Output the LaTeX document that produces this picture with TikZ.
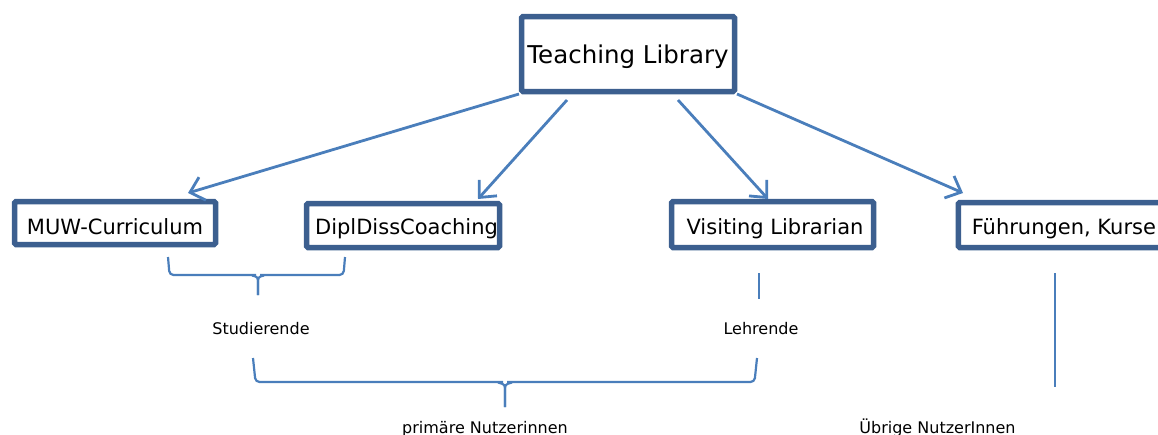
\documentclass[tikz,border=0pt]{standalone}
\usepackage{fontspec}
\setmainfont{DejaVu Sans}
\usetikzlibrary{arrows.meta}
\definecolor{boxblue}{HTML}{3C5F8F}
\definecolor{lineblue}{HTML}{4A7EBB}
\tikzset{
  box/.style={draw=boxblue, line width=5.5pt, rounded corners=1.5pt, fill=white, inner sep=0pt, font=\fontsize{21}{24}\selectfont, text=black, text depth=0pt},
  conn/.style={draw=lineblue, line width=2.8pt, -{Straight Barb[length=13pt,width=24pt,line width=2.8pt]}},
  brace/.style={draw=lineblue, line width=2.2pt, rounded corners=4pt},
  lbl/.style={font=\fontsize{16}{19}\selectfont, text=black, inner sep=0pt}
}
\begin{document}
\begin{tikzpicture}[x=1pt,y=-1pt]
\useasboundingbox (0,0) rectangle (1158,434);
\clip (0,0) rectangle (1158,434);
% boxes
\node[box, minimum width=213pt, minimum height=75pt, font=\fontsize{24.5}{28}\selectfont, text height=18pt] (tl) at (628,54) {Teaching Library};
\node[box, minimum width=201pt, minimum height=43pt, text height=23pt] (muw) at (115,223) {MUW-Curriculum};
\node[box, minimum width=193pt, minimum height=44pt, text height=17pt] (dipl) at (403,225.5) {\hspace*{7pt}DiplDissCoaching};
\node[box, minimum width=202pt, minimum height=46pt, text height=20pt] (vis) at (772.5,224.5) {\hspace*{5pt}Visiting Librarian};
\node[box, minimum height=45pt, anchor=west, text height=19pt] (fue) at (955.5,225) {\hspace*{13.5pt}F\"uhrungen, Kurse\hspace*{40pt}};
% connector endpoints
\coordinate (a1s) at (519,94);  \coordinate (a1e) at (188,193);
\coordinate (a2s) at (567,100); \coordinate (a2e) at (478,199);
\coordinate (a3s) at (678,100); \coordinate (a3e) at (768,199);
\coordinate (a4s) at (737,94);  \coordinate (a4e) at (963,193);
\draw[conn] (a1s) -- (a1e);
\draw[conn] (a2s) -- (a2e);
\draw[conn] (a3s) -- (a3e);
\draw[conn] (a4s) -- (a4e);
% small brace
\coordinate (b1l) at (168,257); \coordinate (b1r) at (345,257); \coordinate (b1m) at (258,295);
\draw[brace] (b1l) -- (169.5,275) -- (256,275);
\draw[brace] (b1r) -- (343.5,275) -- (260,275);
\draw[draw=lineblue, line width=2.2pt, rounded corners=3pt] (252,275.5) -- (258,277) -- (b1m);
\draw[draw=lineblue, line width=2.2pt, rounded corners=3pt] (264,275.5) -- (258,277) -- (b1m);
% visiting line
\coordinate (v1) at (759,273); \coordinate (v2) at (759,299);
\draw[draw=lineblue, line width=2.2pt] (v1) -- (v2);
% big brace
\coordinate (b2l) at (253,358); \coordinate (b2r) at (757,358); \coordinate (b2m) at (505,407);
\draw[brace] (b2l) -- (255.5,382) -- (503,382);
\draw[brace] (b2r) -- (754.5,382) -- (507,382);
\draw[draw=lineblue, line width=2.2pt, rounded corners=3pt] (498,382.5) -- (505,384.5) -- (b2m);
\draw[draw=lineblue, line width=2.2pt, rounded corners=3pt] (512,382.5) -- (505,384.5) -- (b2m);
% right line
\coordinate (r1) at (1055,273); \coordinate (r2) at (1055,387);
\draw[draw=lineblue, line width=2.2pt] (r1) -- (r2);
% labels
\node[lbl] (stud) at (261,329) {Studierende};
\node[lbl] (lehr) at (761,329) {Lehrende};
\node[lbl, anchor=base] (prim) at (485,433) {prim\"are Nutzerinnen};
\node[lbl, anchor=base] (ueb) at (937.5,433) {\"Ubrige NutzerInnen};
\end{tikzpicture}
\end{document}
